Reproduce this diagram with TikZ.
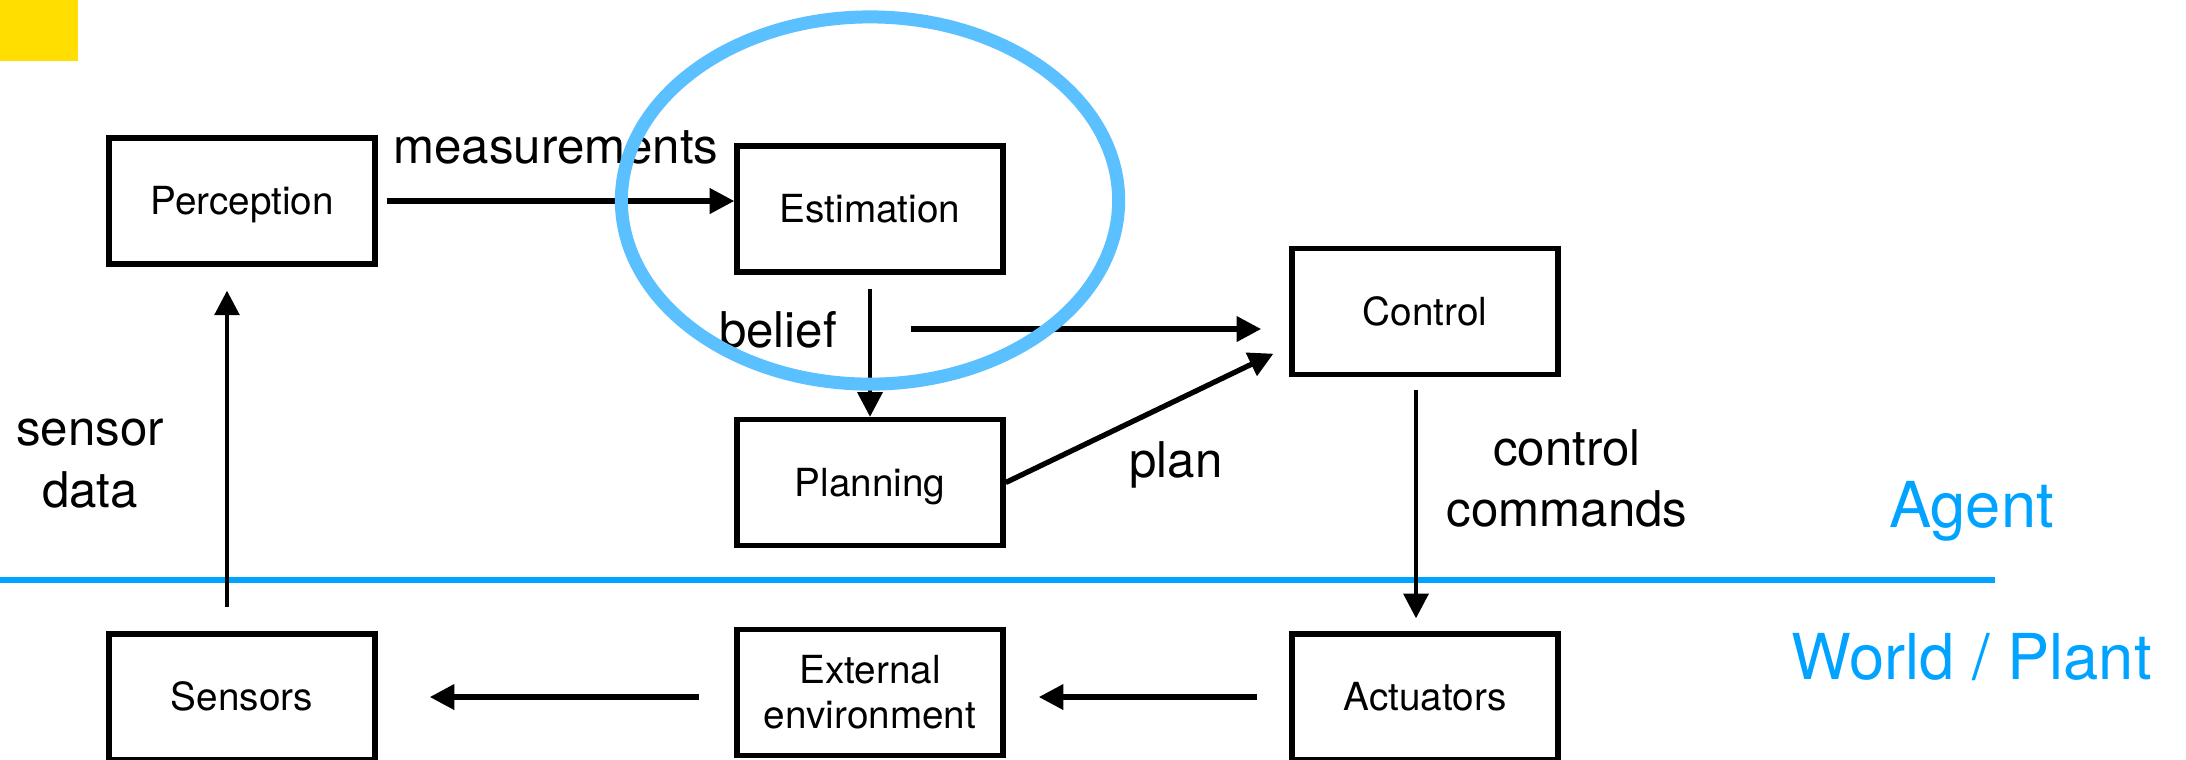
\documentclass[tikz,border=0pt]{standalone}
\usepackage{fontspec}
\setmainfont{TeX Gyre Heros}
\usetikzlibrary{arrows.meta, positioning}
\definecolor{ringblue}{RGB}{90,192,255}
\definecolor{layerblue}{RGB}{0,163,255}
\definecolor{tagyellow}{RGB}{255,222,0}
\tikzset{>={Triangle[length=7pt,width=7pt]}}

\begin{document}
\begin{tikzpicture}[x=0.01cm, y=-0.01cm,
		block/.style={draw, line width=1.5pt, minimum width=2.66cm,
			minimum height=1.26cm, inner sep=0pt,
			font=\fontsize{11}{12.8}\selectfont},
		oneline/.style={text height=7.9pt, text depth=0pt},
		flow/.style={->, line width=1.5pt},
		lbl/.style={font=\fontsize{14}{17.5}\selectfont, align=center},
		layer/.style={font=\fontsize{18}{21}\selectfont, text=layerblue}]
		\useasboundingbox (0,0) rectangle (2186,759);

		% corner tag
		\fill[tagyellow] (0,0) rectangle (78,61);

		% agent blocks
		\node[block, oneline] (perc) at (242,201) {Perception};
		\node[block, oneline] (est) at (870,209) {Estimation};
		\node[block, oneline] (ctrl) at (1425,311.5) {Control};
		\node[block, oneline] (plan) at (870,482.5) {Planning};

		% world blocks
		\node[block, oneline] (sens) at (242,697) {Sensors};
		\node[block, align=center] (env) at (870,692.5) {External\\environment};
		\node[block, oneline] (act) at (1425,697) {Actuators};

		% agent / world split
		\draw[layerblue, line width=1.5pt] (0,580) -- (1995,580);
		\node[layer, anchor=base] (agent) at (1971.5,527) {Agent};
		\node[layer, anchor=base] (world) at (1971.5,679) {World / Plant};

		% measurements
		\draw[flow, shorten <=2.6pt] (perc.east) -- (perc.east -| est.west);
		\node[lbl, anchor=base] (measlbl) at (556,163) {measurements};

		% belief
		\draw[flow, line width=1.2pt, shorten <=4pt] (est.south) -- (plan.north);
		\coordinate (beliefout) at (911,329);
		\draw[flow, shorten >=8pt] (beliefout) -- (beliefout -| ctrl.west);
		\node[lbl, anchor=base] (belieflbl) at (778,347) {belief};

		% plan
		\draw[flow, shorten >=5pt] (plan.east) -- ([yshift=-0.345cm]ctrl.west);
		\node[lbl, anchor=base] (planlbl) at (1176,477) {plan};

		% control commands
		\draw[flow, line width=1.2pt, shorten <=3.7pt, shorten >=3.7pt]
			([xshift=-0.09cm]ctrl.south) -- ([xshift=-0.09cm]act.north);
		\node[lbl] (cmdlbl) at (1567,478.5) {control\\commands};

		% world loop
		\draw[flow, shorten <=9.1pt, shorten >=9.4pt] (act.west) -- (act.west -| env.east);
		\draw[flow, shorten <=10pt, shorten >=14.8pt] (env.west |- sens.east) -- (sens.east);

		% sensor data
		\draw[flow, line width=1.2pt, shorten <=6.8pt, shorten >=6.8pt]
			([xshift=-0.15cm]sens.north) -- ([xshift=-0.15cm]perc.south);
		\node[lbl] (senslbl) at (90,463.75) {sensor\\data};

		% highlight ring
		\draw[ringblue, line width=3.7pt] (870,200.5) ellipse [x radius=2.485cm, y radius=1.835cm];
	\end{tikzpicture}
\end{document}
